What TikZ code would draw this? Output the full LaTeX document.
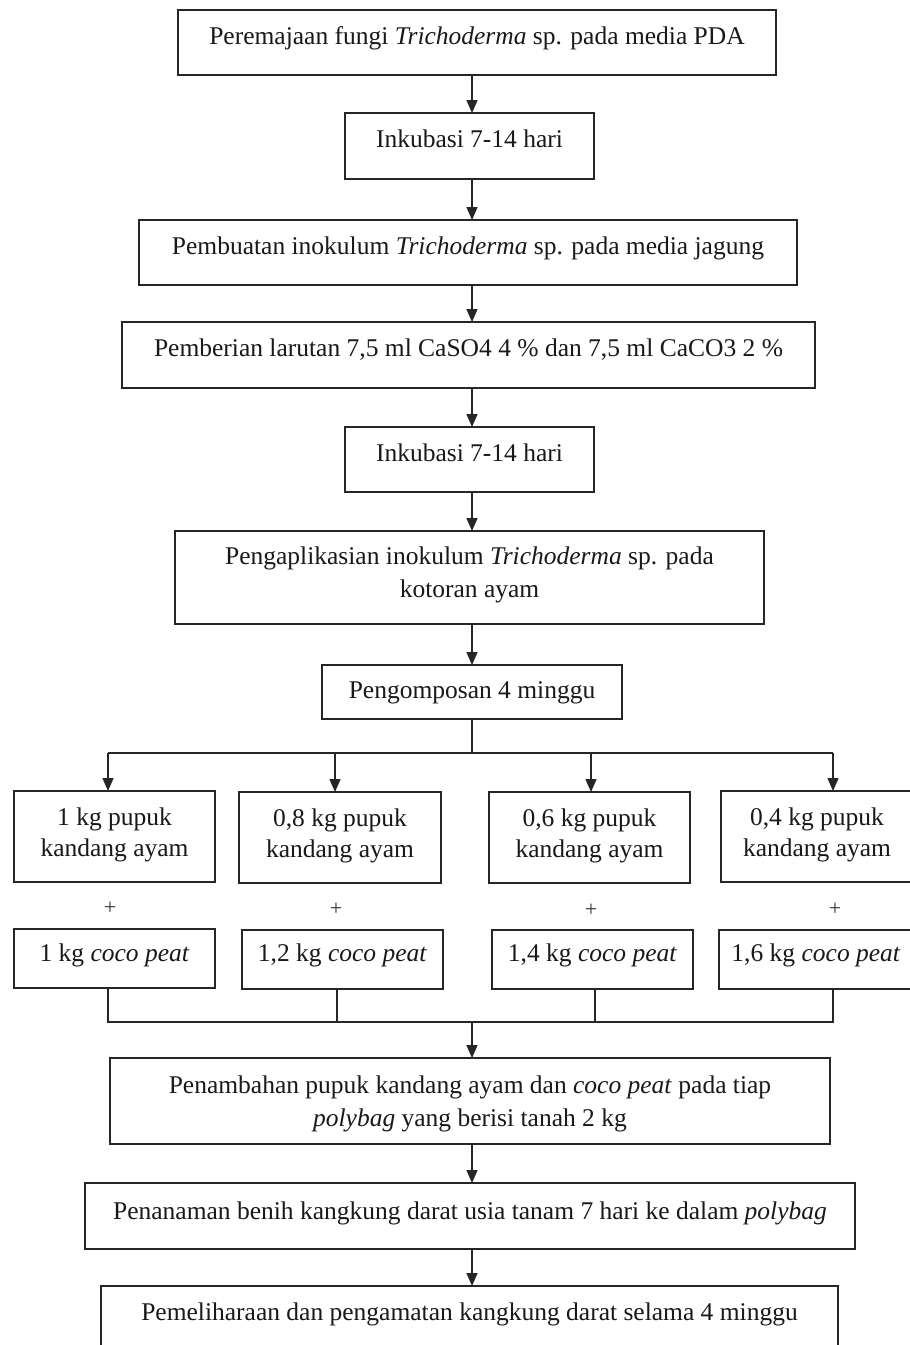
\documentclass[tikz,border=0pt]{standalone}
\usepackage{fontspec}
\setmainfont{Liberation Serif}
\usetikzlibrary{arrows.meta}
\begin{document}
\begin{tikzpicture}[x=1pt,y=-1pt,
  bx/.style={draw=black!85, line width=1.5pt, inner sep=0pt, outer sep=0pt, anchor=north, align=center,
    font=\fontsize{25.5}{33}\selectfont, text=black!90},
  sbx/.style={bx, font=\fontsize{25.5}{31}\selectfont},
  ln/.style={draw=black!85, line width=1.5pt},
  arr/.style={ln, -{Triangle[width=11pt,length=13pt]}},
  plus/.style={inner sep=0pt, font=\fontsize{22}{22}\selectfont, text=black!80}]
\useasboundingbox (0,0) rectangle (910,1345);
\fill[white] (0,0) rectangle (910,1345);

\node[bx, minimum width=598pt, text height=34pt, text depth=31pt] (b1) at (477,10)
  {Peremajaan fungi \textit{Trichoderma} sp. pada media PDA};
\node[bx, minimum width=249pt, text height=34pt, text depth=32pt] (b2) at (469.5,113)
  {Inkubasi 7-14 hari};
\node[bx, minimum width=658pt, text height=34pt, text depth=31pt] (b3) at (468,220)
  {Pembuatan inokulum \textit{Trichoderma} sp. pada media jagung};
\node[bx, minimum width=693pt, text height=34pt, text depth=32pt] (b4) at (468.5,322)
  {Pemberian larutan 7,5 ml CaSO4 4 \% dan 7,5 ml CaCO3 2 \%};
\node[bx, minimum width=249pt, text height=34pt, text depth=31pt] (b5) at (469.5,427)
  {Inkubasi 7-14 hari};
\node[bx, minimum width=589pt, text height=66pt, text depth=27pt] (b6) at (469.5,531)
  {Pengaplikasian inokulum \textit{Trichoderma} sp. pada\\kotoran ayam};
\node[bx, minimum width=300pt, text height=33pt, text depth=21pt] (b7) at (472,665)
  {Pengomposan 4 minggu};

\node[sbx, minimum width=201pt, text height=65pt, text depth=26pt] (rA) at (114.5,791)
  {1 kg pupuk\\kandang ayam};
\node[sbx, minimum width=202pt, text height=65pt, text depth=26pt] (rB) at (340,792)
  {0,8 kg pupuk\\kandang ayam};
\node[sbx, minimum width=201pt, text height=65pt, text depth=26pt] (rC) at (589.5,792)
  {0,6 kg pupuk\\kandang ayam};
\node[sbx, minimum width=192pt, text height=65pt, text depth=26pt] (rD) at (817,791)
  {0,4 kg pupuk\\kandang ayam};

\node[plus] (pa) at (110,908) {+};
\node[plus] (pb) at (336,909) {+};
\node[plus] (pc) at (591,910) {+};
\node[plus] (pd) at (835,909) {+};

\node[sbx, minimum width=201pt, text height=32pt, text depth=27pt] (cA) at (114.5,929)
  {1 kg \textit{coco peat}};
\node[sbx, minimum width=201pt, text height=31pt, text depth=28pt] (cB) at (342.5,930)
  {1,2 kg \textit{coco peat}};
\node[sbx, minimum width=201pt, text height=31pt, text depth=28pt] (cC) at (592.5,930)
  {1,4 kg \textit{coco peat}};
\node[sbx, minimum width=194pt, text height=31pt, text depth=28pt] (cD) at (816,930)
  {1,6 kg \textit{coco peat}};

\node[bx, minimum width=720pt, text height=68pt, text depth=18pt] (b9) at (470,1058)
  {Penambahan pupuk kandang ayam dan \textit{coco peat} pada tiap\\\textit{polybag} yang berisi tanah 2 kg};
\node[bx, minimum width=770pt, text height=36pt, text depth=30pt] (b10) at (470,1183)
  {Penanaman benih kangkung darat usia tanam 7 hari ke dalam \textit{polybag}};
\node[bx, minimum width=737pt, text height=34pt, text depth=46pt] (b11) at (469.5,1286)
  {Pemeliharaan dan pengamatan kangkung darat selama 4 minggu};

% axis and junction coordinates
\coordinate (ax) at (472,0);
\coordinate (br) at (472,753);
\coordinate (pA) at (108,753);
\coordinate (pB) at (335,753);
\coordinate (pC) at (591,753);
\coordinate (pD) at (833,753);
\coordinate (jn) at (472,1022);
\coordinate (qA) at (108,1022);
\coordinate (qB) at (337,1022);
\coordinate (qC) at (595,1022);
\coordinate (qD) at (833,1022);

\draw[arr] (b1.south -| ax) -- (b2.north -| ax);
\draw[arr] (b2.south -| ax) -- (b3.north -| ax);
\draw[arr] (b3.south -| ax) -- (b4.north -| ax);
\draw[arr] (b4.south -| ax) -- (b5.north -| ax);
\draw[arr] (b5.south -| ax) -- (b6.north -| ax);
\draw[arr] (b6.south -| ax) -- (b7.north -| ax);

\draw[ln] (b7.south -| br) -- (br);
\draw[ln] (pA) -- (pD);
\draw[arr] (pA) -- (pA |- rA.north);
\draw[arr] (pB) -- (pB |- rB.north);
\draw[arr] (pC) -- (pC |- rC.north);
\draw[arr] (pD) -- (pD |- rD.north);

\draw[ln] (cA.south -| qA) -- (qA) -- (qD) -- (cD.south -| qD);
\draw[ln] (cB.south -| qB) -- (qB);
\draw[ln] (cC.south -| qC) -- (qC);
\draw[arr] (jn) -- (b9.north -| jn);

\draw[arr] (b9.south -| ax) -- (b10.north -| ax);
\draw[arr] (b10.south -| ax) -- (b11.north -| ax);
\end{tikzpicture}
\end{document}
